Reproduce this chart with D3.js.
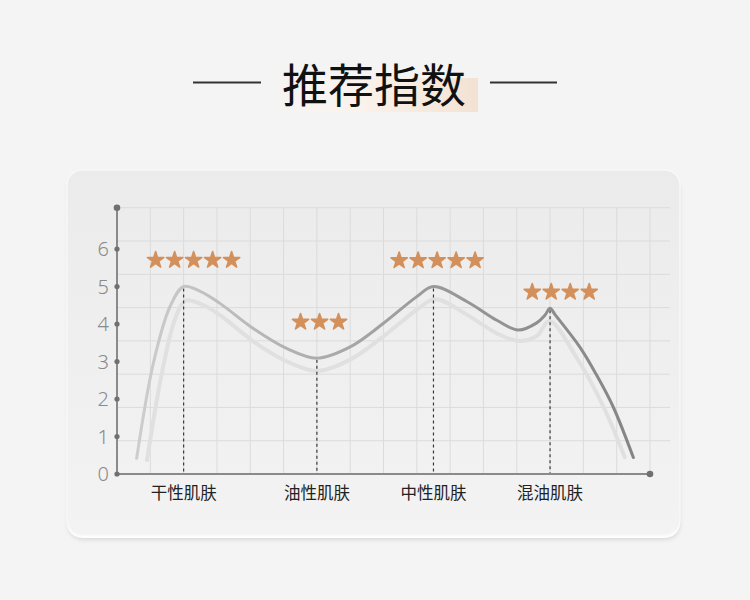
<!DOCTYPE html>
<html>
<head>
<meta charset="utf-8">
<script src="https://cdn.jsdelivr.net/npm/d3@7"></script>
<style>
    html, body { margin: 0; padding: 0; background: #f4f4f4; }
    svg { display: block; }
</style>
</head>
<body>
<div id="chart"></div>
<script>
// chart values
var categories    = ['干性肌肤', '油性肌肤', '中性肌肤', '混油肌肤'];
var categoryPos   = [2, 6, 9.5, 13];
var peakValues    = [5, 3.1, 5, 4.42];
var starCounts    = [5, 3, 5, 4];
var starLevels    = [5.73, 4.08, 5.72, 4.88];
var starCenters   = [2.3, 6.08, 9.61, 13.32];
var yTicks        = [0, 1, 2, 3, 4, 5, 6];

// main curve (x in grid columns, y in score)
var curveX  = [0.59, 1.09, 1.59, 2, 2.5, 3.09, 4.09, 5.09, 6, 7, 8, 9, 9.5, 10.5, 11.4, 12.04, 12.6, 12.85, 13, 13.15, 13.89, 14.39, 14.89, 15.5];
var curveY  = [0.42, 2.95, 4.46, 5, 4.87, 4.55, 3.88, 3.35, 3.09, 3.39, 4.02, 4.73, 5, 4.6, 4.1, 3.84, 4.03, 4.24, 4.42, 4.25, 3.39, 2.65, 1.8, 0.44];
// the faint shadow curve under it
var shadowX = [0.9, 1.35, 1.75, 2.06, 2.6, 3.15, 4.1, 5.1, 6.02, 7, 8, 9, 9.55, 10.5, 11.4, 12.05, 12.6, 12.98, 13.8, 14.6, 15.24];
var shadowY = [0.37, 2.7, 4.15, 4.62, 4.5, 4.2, 3.53, 3.0, 2.75, 3.05, 3.67, 4.38, 4.66, 4.25, 3.75, 3.55, 3.68, 4.08, 3.1, 1.8, 0.45];

(function(){
    'use strict';
    var W = 750, H = 600;
    var STAR_COLOR = '#d4905b';
    var STAR_GAP   = 0.57;
    var Y_TOP      = 7.1;

    var x = d3.scaleLinear().domain([0, 16]).range([117, 650]);
    var y = d3.scaleLinear().domain([0, 6]).range([474, 249]);
    // square grid: 8 rows between axis and top dot
    var gy = d3.scaleLinear().domain([0, 8]).range([y(0), y(Y_TOP)]);

    var svg = d3.select('#chart')
    .append('svg')
    .attr('width', W)
    .attr('height', H);

    var defs = svg.append('defs');

    var hl = defs.append('linearGradient')
    .attr('id', 'title-hl')
    .attr('x1', 0).attr('x2', 1).attr('y1', 0).attr('y2', 0);
    hl.append('stop').attr('offset', 0).attr('stop-color', '#fbf5f0').attr('stop-opacity', 0);
    hl.append('stop').attr('offset', 0.4).attr('stop-color', '#fbf3ec').attr('stop-opacity', 0.9);
    hl.append('stop').attr('offset', 1).attr('stop-color', '#f3e2d3');

    var cardGrad = defs.append('linearGradient')
    .attr('id', 'card-bg')
    .attr('x1', 0).attr('x2', 0).attr('y1', 0).attr('y2', 1);
    cardGrad.append('stop').attr('offset', 0).attr('stop-color', '#ebebeb');
    cardGrad.append('stop').attr('offset', 1).attr('stop-color', '#f3f3f3');

    var lineGrad = defs.append('linearGradient')
    .attr('id', 'line-grad')
    .attr('gradientUnits', 'userSpaceOnUse')
    .attr('x1', x(curveX[0])).attr('x2', x(curveX[curveX.length - 1]))
    .attr('y1', 0).attr('y2', 0);
    lineGrad.append('stop').attr('offset', 0).attr('stop-color', '#cdcdcd');
    lineGrad.append('stop').attr('offset', 0.55).attr('stop-color', '#9c9c9c');
    lineGrad.append('stop').attr('offset', 1).attr('stop-color', '#858585');

    defs.append('filter')
    .attr('id', 'soft')
    .attr('x', '-10%').attr('y', '-10%').attr('width', '120%').attr('height', '120%')
    .append('feGaussianBlur')
    .attr('stdDeviation', 0.7);

    defs.append('filter')
    .attr('id', 'card-shadow')
    .attr('x', '-10%').attr('y', '-10%').attr('width', '120%').attr('height', '120%')
    .append('feGaussianBlur')
    .attr('stdDeviation', 2);

    // title
    svg.append('rect')
    .attr('x', 268).attr('y', 78)
    .attr('width', 210).attr('height', 34)
    .attr('fill', 'url(#title-hl)');

    svg.append('line')
    .attr('x1', 193).attr('x2', 261).attr('y1', 82.5).attr('y2', 82.5)
    .attr('stroke', '#333').attr('stroke-width', 2);

    svg.append('line')
    .attr('x1', 490).attr('x2', 557).attr('y1', 82.5).attr('y2', 82.5)
    .attr('stroke', '#333').attr('stroke-width', 2);

    svg.append('text')
    .attr('x', 374).attr('y', 102)
    .attr('text-anchor', 'middle')
    .attr('font-family', '"Noto Sans CJK SC", sans-serif')
    .attr('font-size', 46)
    .attr('fill', '#111')
    .text('推荐指数');

    // card: shadow, white bottom rim, face
    svg.append('rect')
    .attr('x', 68).attr('y', 175).attr('width', 612).attr('height', 365)
    .attr('rx', 15)
    .attr('fill', '#d9d9d9')
    .attr('filter', 'url(#card-shadow)');

    svg.append('rect')
    .attr('x', 67).attr('y', 172).attr('width', 613).attr('height', 366)
    .attr('rx', 15)
    .attr('fill', '#fdfdfd');

    svg.append('rect')
    .attr('x', 67).attr('y', 170).attr('width', 613).attr('height', 365)
    .attr('rx', 15)
    .attr('fill', 'url(#card-bg)')
    .attr('stroke', '#f8f8f8')
    .attr('stroke-width', 1.5);

    // grid
    var grid = svg.append('g').attr('class', 'grid');

    grid.selectAll('line.v')
    .data(d3.range(1, 17))
    .enter().append('line')
    .attr('class', 'v')
    .attr('x1', function(d){ return x(d); })
    .attr('x2', function(d){ return x(d); })
    .attr('y1', gy(8)).attr('y2', gy(0))
    .attr('stroke', '#dbdbdb').attr('stroke-width', 1);

    grid.selectAll('line.h')
    .data(d3.range(1, 9))
    .enter().append('line')
    .attr('class', 'h')
    .attr('x1', x(0)).attr('x2', 670)
    .attr('y1', function(d){ return gy(d); })
    .attr('y2', function(d){ return gy(d); })
    .attr('stroke', '#dbdbdb').attr('stroke-width', 1);

    // curves
    var line = d3.line()
    .x(function(d){ return x(d[0]); })
    .y(function(d){ return y(d[1]); })
    .curve(d3.curveCatmullRom.alpha(0.5));

    svg.append('path')
    .datum(d3.zip(shadowX, shadowY))
    .attr('d', line)
    .attr('fill', 'none')
    .attr('stroke', '#e0e0e0')
    .attr('stroke-width', 4)
    .attr('stroke-linecap', 'round')
    .attr('filter', 'url(#soft)');

    // dashed guides from each peak
    svg.selectAll('line.guide')
    .data(categoryPos)
    .enter().append('line')
    .attr('class', 'guide')
    .attr('x1', function(d){ return x(d); })
    .attr('x2', function(d){ return x(d); })
    .attr('y1', function(d, i){ return y(peakValues[i]) + 2; })
    .attr('y2', y(0))
    .attr('stroke', '#3a3a3a')
    .attr('stroke-width', 1.2)
    .attr('stroke-dasharray', '3,3');

    svg.append('path')
    .datum(d3.zip(curveX, curveY))
    .attr('d', line)
    .attr('fill', 'none')
    .attr('stroke', 'url(#line-grad)')
    .attr('stroke-width', 3)
    .attr('stroke-linecap', 'round')
    .attr('stroke-linejoin', 'round');

    // axes
    svg.append('line')
    .attr('x1', x(0)).attr('x2', x(0))
    .attr('y1', y(Y_TOP)).attr('y2', y(0))
    .attr('stroke', '#8a8a8a').attr('stroke-width', 2);

    svg.append('line')
    .attr('x1', x(0)).attr('x2', x(16))
    .attr('y1', y(0)).attr('y2', y(0))
    .attr('stroke', '#8a8a8a').attr('stroke-width', 2);

    svg.selectAll('circle.tick')
    .data(yTicks)
    .enter().append('circle')
    .attr('class', 'tick')
    .attr('cx', x(0))
    .attr('cy', function(d){ return y(d); })
    .attr('r', 2.6)
    .attr('fill', '#707070');

    svg.append('circle').attr('cx', x(0)).attr('cy', y(Y_TOP)).attr('r', 3.3).attr('fill', '#707070');
    svg.append('circle').attr('cx', x(16)).attr('cy', y(0)).attr('r', 3.3).attr('fill', '#707070');

    svg.selectAll('text.ytick')
    .data(yTicks)
    .enter().append('text')
    .attr('class', 'ytick')
    .attr('x', x(0) - 8)
    .attr('y', function(d){ return y(d) + 7; })
    .attr('text-anchor', 'end')
    .attr('font-family', '"Noto Sans", sans-serif')
    .attr('font-weight', 300)
    .attr('font-size', 20)
    .attr('fill', '#8a8a8a')
    .text(function(d){ return d; });

    svg.selectAll('text.cat')
    .data(categories)
    .enter().append('text')
    .attr('class', 'cat')
    .attr('x', function(d, i){ return x(categoryPos[i]); })
    .attr('y', 499)
    .attr('text-anchor', 'middle')
    .attr('font-family', '"Noto Sans CJK SC", sans-serif')
    .attr('font-size', 16.5)
    .attr('fill', '#222')
    .text(function(d){ return d; });

    // star ratings
    var star = d3.symbol().type(d3.symbolStar).size(82);
    var stars = [];
    starCounts.forEach(function(n, i){
        for(var k = 0; k < n; k++) {
            stars.push({
                'x': starCenters[i] + (k - (n - 1) / 2) * STAR_GAP,
                'v': starLevels[i]
            });
        }
    });

    svg.selectAll('path.star')
    .data(stars)
    .enter().append('path')
    .attr('class', 'star')
    .attr('d', star)
    .attr('transform', function(d){ return 'translate(' + x(d.x) + ',' + (y(d.v) + 1) + ')'; })
    .attr('fill', STAR_COLOR)
    .attr('stroke', STAR_COLOR)
    .attr('stroke-width', 1.6)
    .attr('stroke-linejoin', 'round');
})();
</script>
</body>
</html>
